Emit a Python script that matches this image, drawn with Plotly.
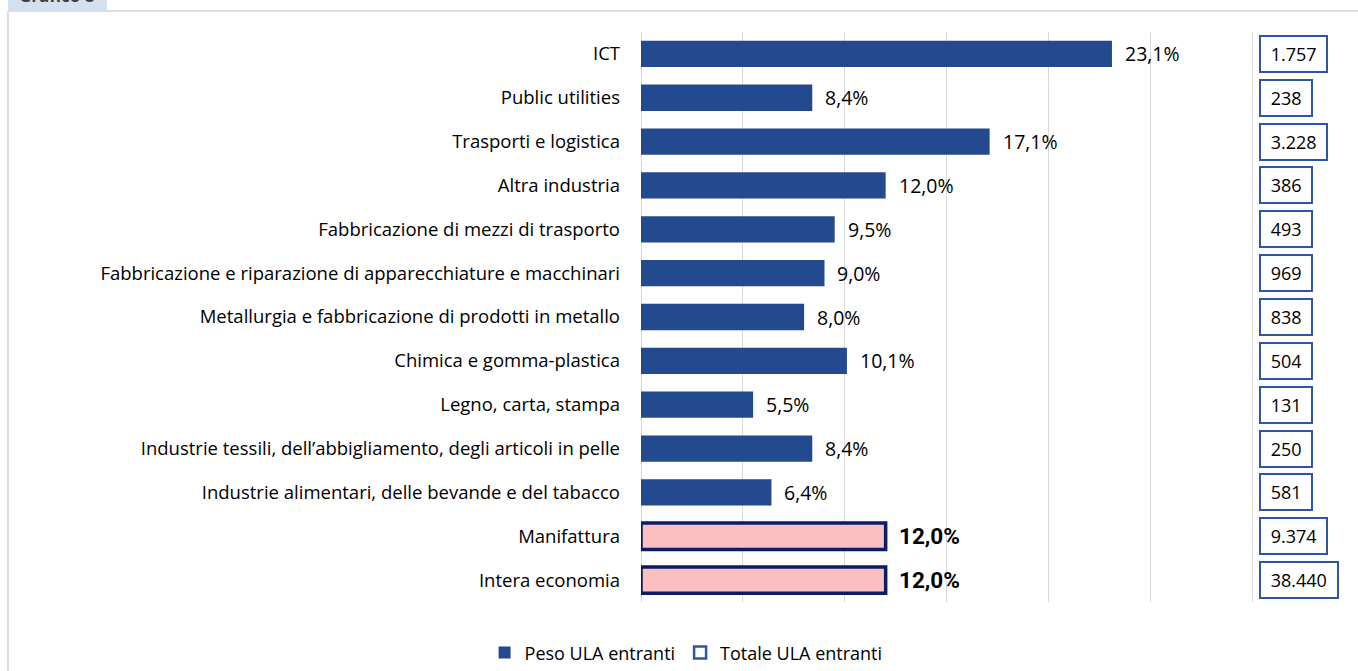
"""Peso e totale delle ULA entranti per settore (Grafico 8)."""

import plotly.graph_objects as go

settori = [
    "ICT",
    "Public utilities",
    "Trasporti e logistica",
    "Altra industria",
    "Fabbricazione di mezzi di trasporto",
    "Fabbricazione e riparazione di apparecchiature e macchinari",
    "Metallurgia e fabbricazione di prodotti in metallo",
    "Chimica e gomma-plastica",
    "Legno, carta, stampa",
    "Industrie tessili, dell\u2019abbigliamento, degli articoli in pelle",
    "Industrie alimentari, delle bevande e del tabacco",
]
peso_settori = [23.1, 8.4, 17.1, 12.0, 9.5, 9.0, 8.0, 10.1, 5.5, 8.4, 6.4]

aggregati = ["Manifattura", "Intera economia"]
peso_aggregati = [12.0, 12.0]

totale_ula = ["1.757", "238", "3.228", "386", "493", "969", "838", "504",
              "131", "250", "581", "9.374", "38.440"]

BLUE = "#23498f"
PINK = "#fbbfbf"
NAVY = "#0b1c66"
BOX = "#2f56a3"
FONT = "Open Sans"


def pct(v):
    return f"{v:.1f}%".replace(".", ",")


fig = go.Figure()

fig.add_trace(
    go.Bar(
        y=settori, x=peso_settori, orientation="h", width=0.6,
        name="Peso ULA entranti", marker=dict(color=BLUE, line_width=0),
    )
)
fig.add_trace(
    go.Bar(
        y=aggregati, x=peso_aggregati, orientation="h", width=0.6,
        showlegend=False,
        marker=dict(color=PINK, line=dict(color=NAVY, width=3.5)),
    )
)
fig.add_trace(
    go.Bar(
        y=[settori[0]], x=[None], orientation="h",
        name="Totale ULA entranti",
        marker=dict(color="white", line=dict(color=BOX, width=2.5)),
    )
)

# etichette percentuali
for cat, v in zip(settori, peso_settori):
    fig.add_annotation(
        x=v, y=cat, text=pct(v), showarrow=False, xanchor="left", xshift=11,
        font=dict(family=FONT, size=19.5, color="black"),
    )
for cat, v in zip(aggregati, peso_aggregati):
    fig.add_annotation(
        x=v, y=cat, text="<b>" + pct(v) + "</b>", showarrow=False,
        xanchor="left", xshift=11,
        font=dict(family="Roboto", size=22.5, color="black"),
    )

# riquadri con il totale delle ULA
for cat, t in zip(settori + aggregati, totale_ula):
    fig.add_annotation(
        x=30, y=cat, text="\u00a0" + t + "\u00a0", showarrow=False,
        xanchor="left", xshift=6,
        font=dict(family=FONT, size=18, color="black"),
        bordercolor=BOX, borderwidth=2, borderpad=5, bgcolor="white",
    )

# cornice e linguetta del titolo
fig.add_shape(type="line", xref="paper", yref="paper",
              x0=-0.9268, x1=1.06, y0=1.0368, y1=1.0368,
              line=dict(color="#d4d4d4", width=1.5))
fig.add_shape(type="line", xref="paper", yref="paper",
              x0=-0.9268, x1=-0.9268, y0=1.0368, y1=-0.13,
              line=dict(color="#d4d4d4", width=1.5))
fig.add_shape(type="rect", xref="paper", yref="paper",
              x0=-0.9268, x1=-0.7818, y0=1.0368, y1=1.07,
              fillcolor="#d2e0ef", line_width=0)
fig.add_annotation(
    xref="paper", yref="paper", x=-0.913, y=1.0395, xanchor="left",
    yanchor="bottom", text="<b>Grafico 8</b>", showarrow=False,
    font=dict(family=FONT, size=17, color="#404040"),
)

fig.update_layout(
    width=1358, height=671,
    margin=dict(l=641, r=34, t=32, b=69),
    paper_bgcolor="white", plot_bgcolor="white",
    barmode="overlay",
    font=dict(family=FONT, size=18, color="black"),
    showlegend=True,
    legend=dict(
        orientation="h", x=0.066, xanchor="center",
        yref="container", y=0.027, yanchor="middle",
        font=dict(family=FONT, size=18, color="black"), itemwidth=30,
        traceorder="normal",
    ),
    xaxis=dict(
        range=[0, 33.5], dtick=5, showticklabels=False,
        showgrid=True, gridcolor="#d9d9d9", gridwidth=1,
        zeroline=True, zerolinecolor="#d9d9d9", zerolinewidth=1,
        fixedrange=True,
    ),
    yaxis=dict(
        categoryorder="array", categoryarray=settori + aggregati,
        autorange="reversed", showgrid=False, ticks="", ticklabelstandoff=20,
        tickfont=dict(family=FONT, size=18.5, color="black"),
        fixedrange=True,
    ),
)

fig.write_html(
    "out.html",
    config={"displayModeBar": False},
    post_script="document.body.style.margin = '0';",
)
